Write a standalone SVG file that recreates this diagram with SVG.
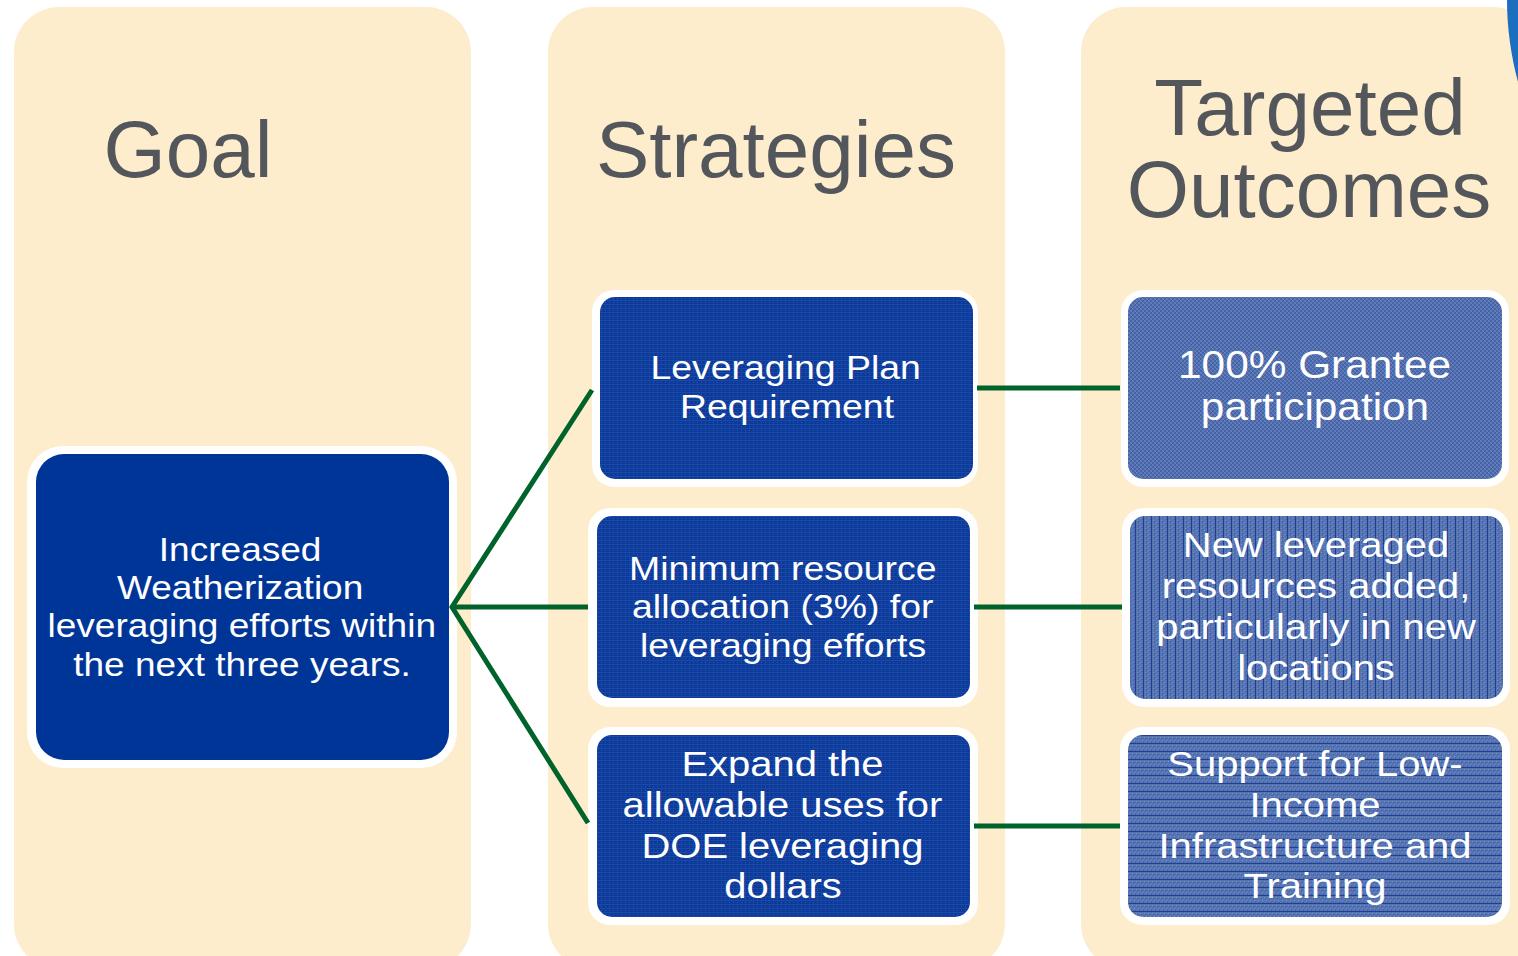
<svg xmlns="http://www.w3.org/2000/svg" width="1518" height="956" viewBox="0 0 1518 956">
<style>
.panel{fill:#fdedcc}
.hdr{font-family:"Liberation Sans",Arial,sans-serif;font-size:80px;fill:#53565b;text-anchor:middle}
.frame{fill:#ffffff}
.t{font-family:"Liberation Sans",Arial,sans-serif;fill:#ffffff;text-anchor:middle}
.conn{stroke:#00632b;stroke-width:5;fill:none;stroke-linecap:butt}
</style>
<defs>
<pattern id="pStrat" width="4" height="4" patternUnits="userSpaceOnUse">
<rect width="4" height="4" fill="#0b3a9b"/>
<rect y="0" width="4" height="1" fill="#1d4aa6"/>
<rect x="1" y="2" width="1" height="1" fill="#2d58b0"/>
</pattern>
<pattern id="pOut1" width="4" height="4" patternUnits="userSpaceOnUse">
<rect width="4" height="4" fill="#5672b1"/>
<path d="M0,4 L4,0" stroke="#3d5da5" stroke-width="1.2"/>
<path d="M0,0 L4,4" stroke="#7890c6" stroke-width="0.6"/>
</pattern>
<pattern id="pOut2" width="8" height="4" patternUnits="userSpaceOnUse">
<rect width="8" height="4" fill="#5673b2"/>
<rect x="1" y="0" width="1" height="1" fill="#7d93c8"/>
<rect x="4" y="2" width="1" height="1" fill="#7d93c8"/>
<rect x="2" y="1" width="1" height="1" fill="#3f5fa7"/>
<rect x="6" y="3" width="1" height="1" fill="#3f5fa7"/>
<rect x="7" y="0" width="1" height="4" fill="#1e3f95"/>
</pattern>
<pattern id="pOut3" width="4" height="8" patternUnits="userSpaceOnUse">
<rect width="4" height="8" fill="#5673b2"/>
<rect x="0" y="1" width="1" height="1" fill="#7d93c8"/>
<rect x="2" y="4" width="1" height="1" fill="#7d93c8"/>
<rect x="1" y="2" width="1" height="1" fill="#3f5fa7"/>
<rect x="3" y="6" width="1" height="1" fill="#3f5fa7"/>
<rect x="0" y="7" width="4" height="1" fill="#1e3f95"/>
</pattern>
</defs>

<rect width="1518" height="956" fill="#ffffff"/>

<g id="panels">
<rect class="panel" x="14" y="7" width="457" height="962" rx="45" ry="45"/>
<rect class="panel" x="548" y="7" width="457" height="962" rx="45" ry="45"/>
<rect class="panel" x="1081" y="7" width="457" height="962" rx="45" ry="45"/>
<path d="M1507,0 C1507,28 1511,56 1518,82 L1518,0 Z" fill="#1c6ebf"/>
</g>

<g id="headers">
<text class="hdr" x="188" y="177">Goal</text>
<text class="hdr" x="776" y="177">Strategies</text>
<text class="hdr" x="1310" y="135">Targeted</text>
<text class="hdr" x="1309" y="217">Outcomes</text>
</g>

<g id="goal">
<rect class="frame" x="27" y="446" width="430" height="322" rx="36"/>
<rect x="36" y="454" width="413" height="306" rx="28" fill="#003598"/>
<text class="t" font-size="34" transform="translate(242 0) scale(1.09 1)">
<tspan x="3" y="561">Increased</tspan>
<tspan x="3" y="599">Weatherization</tspan>
<tspan x="4.5" y="637">leveraging efforts within</tspan>
<tspan x="0" y="676">the next three years.</tspan>
</text>
</g>

<g id="strategy1">
<rect class="frame" x="592" y="290" width="386" height="197" rx="22"/>
<rect x="600" y="297" width="373" height="182" rx="15" fill="url(#pStrat)"/>
<text class="t" font-size="34" transform="translate(787 0) scale(1.1 1)">
<tspan x="3.5" y="379">Leveraging Plan</tspan>
<tspan x="0" y="418">Requirement</tspan>
</text>
</g>

<g id="strategy2">
<rect class="frame" x="588" y="508" width="390" height="199" rx="22"/>
<rect x="597" y="516" width="373" height="182" rx="15" fill="url(#pStrat)"/>
<text class="t" font-size="34" transform="translate(783 0) scale(1.1 1)">
<tspan x="4.5" y="580">Minimum resource</tspan>
<tspan x="4.5" y="618">allocation (3%) for</tspan>
<tspan x="0" y="657">leveraging efforts</tspan>
</text>
</g>

<g id="strategy3">
<rect class="frame" x="588" y="727" width="390" height="198" rx="22"/>
<rect x="597" y="735" width="373" height="182" rx="15" fill="url(#pStrat)"/>
<text class="t" font-size="36" transform="translate(783 0) scale(1.11 1)">
<tspan x="4.5" y="776">Expand the</tspan>
<tspan x="4.5" y="817">allowable uses for</tspan>
<tspan x="4.5" y="858">DOE leveraging</tspan>
<tspan x="0" y="898">dollars</tspan>
</text>
</g>

<g id="outcome1">
<rect class="frame" x="1121" y="290" width="388" height="197" rx="22"/>
<rect x="1128" y="297" width="374" height="182" rx="15" fill="url(#pOut1)"/>
<text class="t" font-size="38.5" transform="translate(1315 0) scale(1.1 1)">
<tspan x="5" y="378">100% Grantee</tspan>
<tspan x="0" y="420">participation</tspan>
</text>
</g>

<g id="outcome2">
<rect class="frame" x="1122" y="508" width="388" height="199" rx="22"/>
<rect x="1130" y="516" width="373" height="183" rx="15" fill="url(#pOut2)"/>
<text class="t" font-size="36" transform="translate(1316 0) scale(1.11 1)">
<tspan x="5" y="557">New leveraged</tspan>
<tspan x="5" y="598">resources added,</tspan>
<tspan x="5" y="639">particularly in new</tspan>
<tspan x="0" y="680">locations</tspan>
</text>
</g>

<g id="outcome3">
<rect class="frame" x="1120" y="727" width="390" height="198" rx="22"/>
<rect x="1128" y="735" width="374" height="182" rx="15" fill="url(#pOut3)"/>
<text class="t" font-size="36" transform="translate(1315 0) scale(1.11 1)">
<tspan x="5" y="776">Support for Low-</tspan>
<tspan x="5" y="817">Income</tspan>
<tspan x="5" y="858">Infrastructure and</tspan>
<tspan x="0" y="898">Training</tspan>
</text>
</g>

<g id="connectors">
<path class="conn" d="M592,390 L452,607 L588,823"/>
<path class="conn" d="M452,607 L588,607"/>
<path class="conn" d="M977,388 L1120,388"/>
<path class="conn" d="M974,607 L1122,607"/>
<path class="conn" d="M974,826 L1120,826"/>
</g>
</svg>
